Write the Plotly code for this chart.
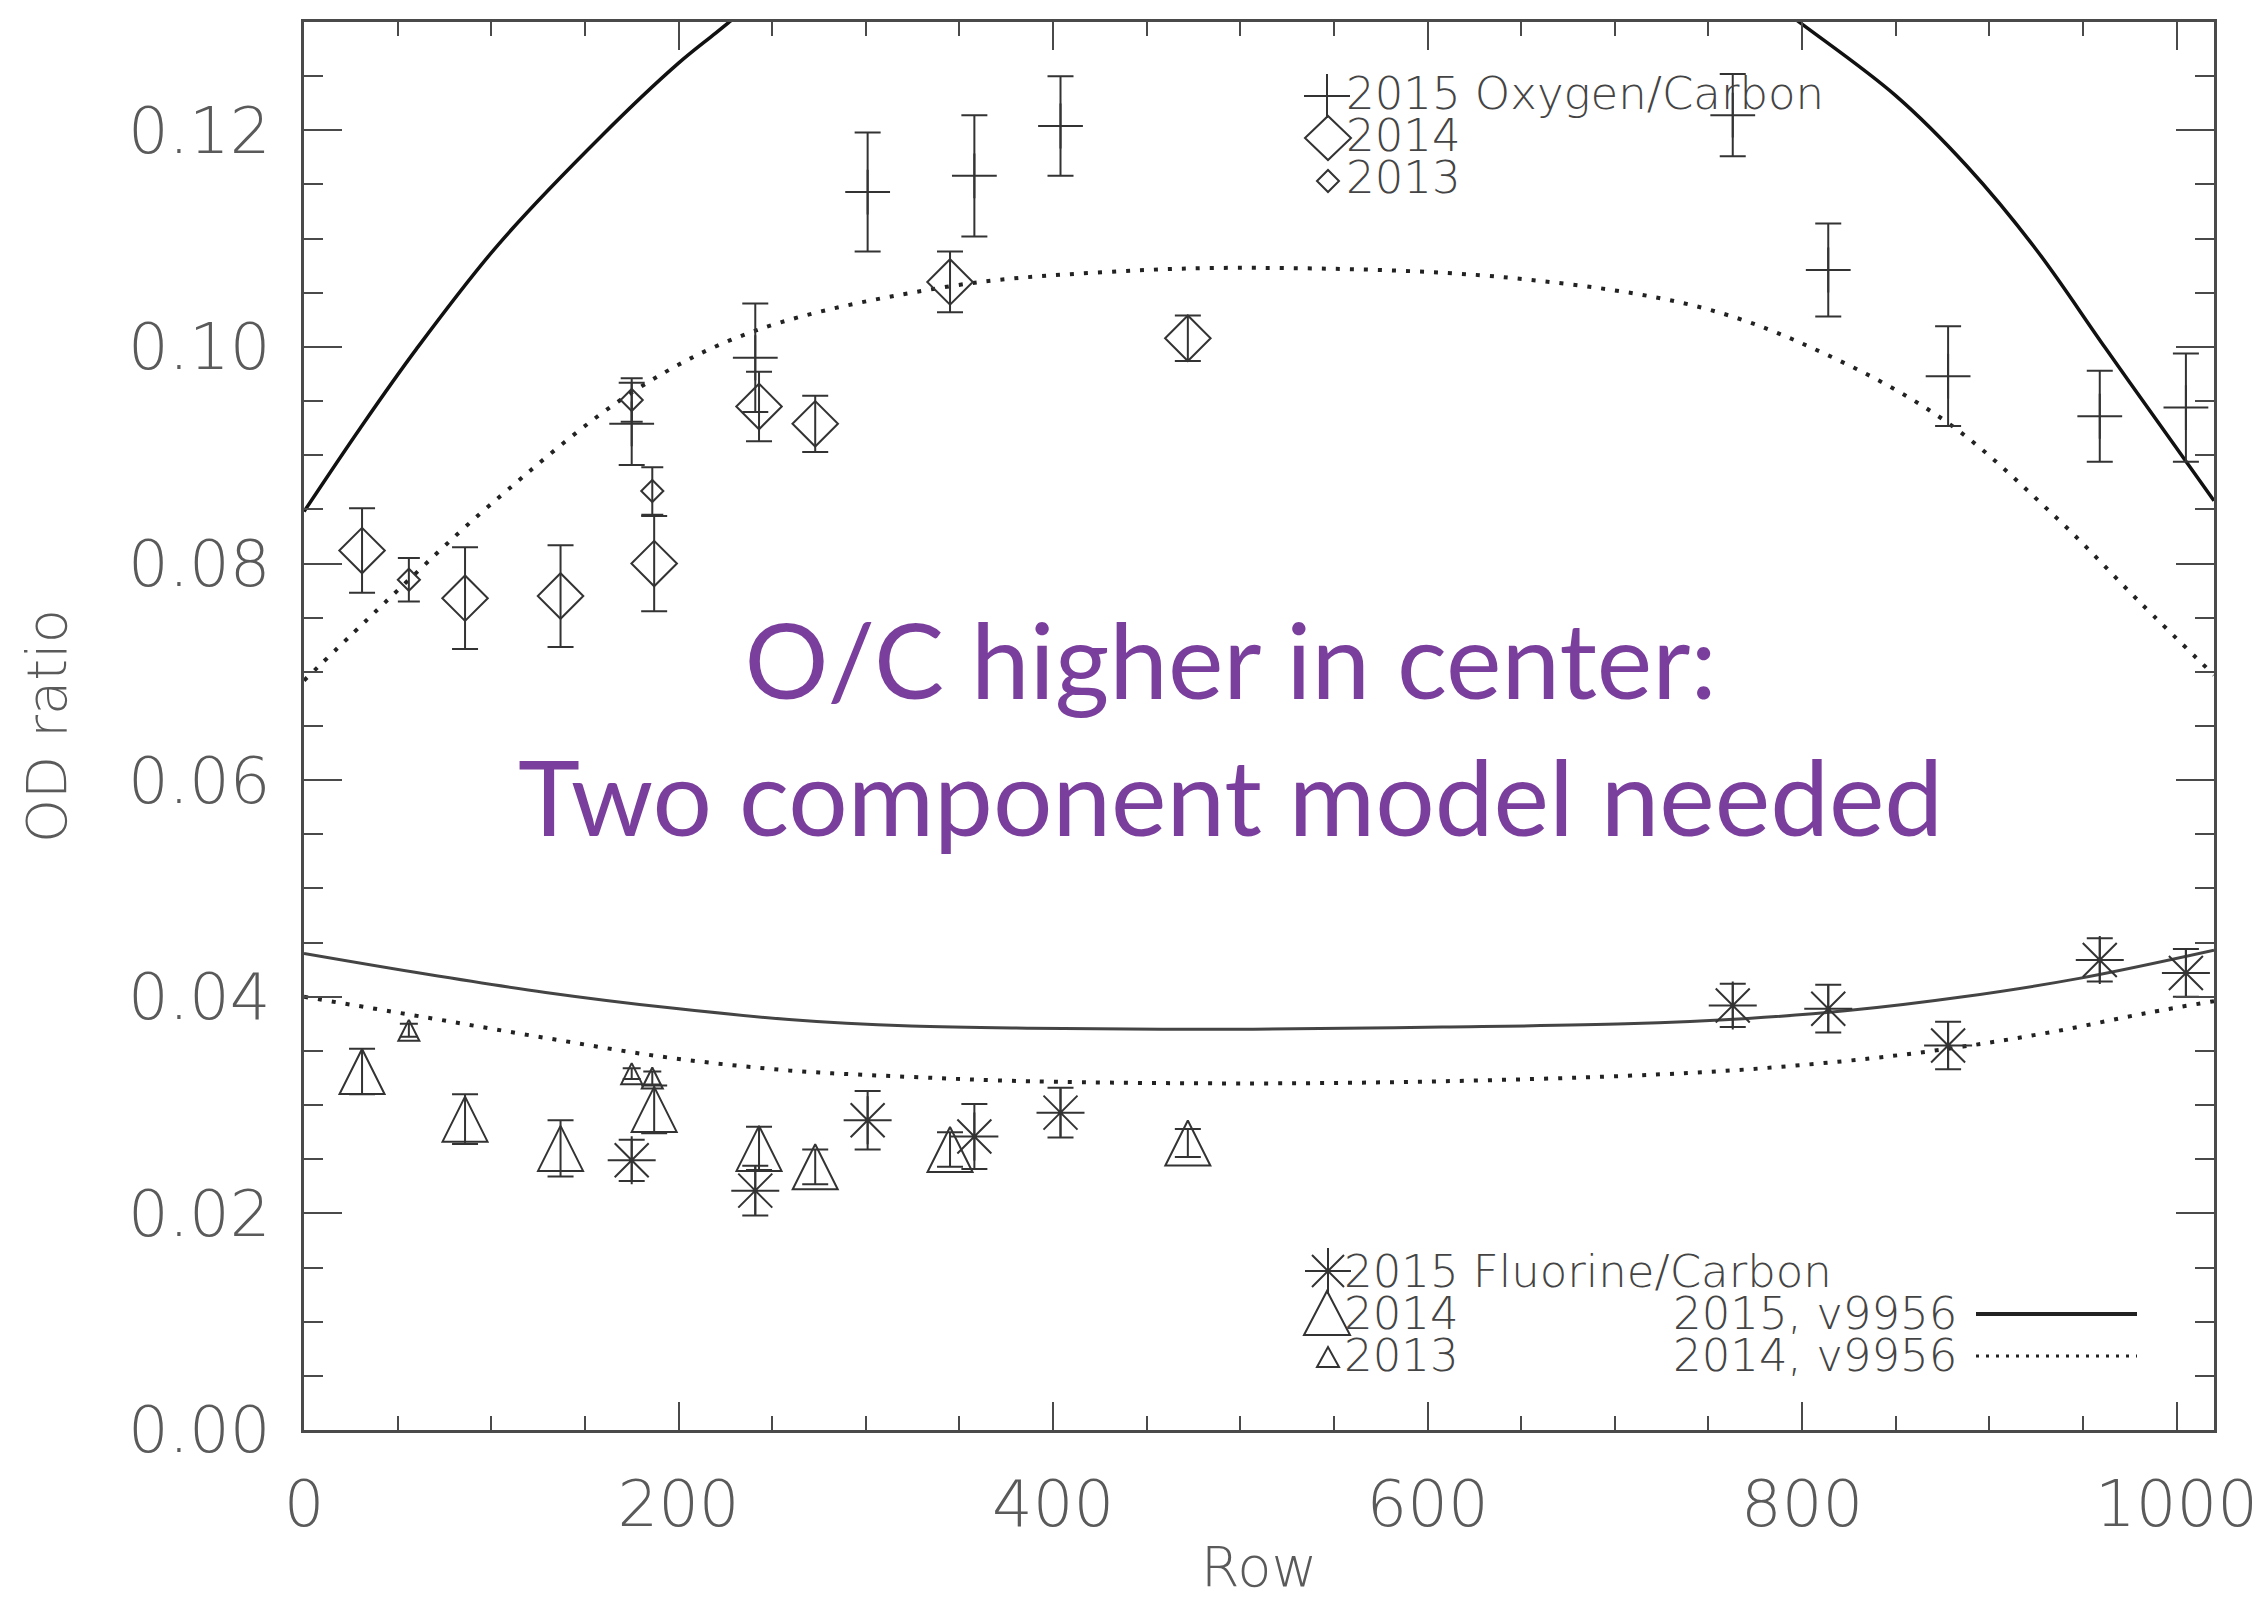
import plotly.graph_objects as go

# ---------------- data ----------------
rows_2015 = [175, 241, 301, 358, 404, 763, 814, 878, 959, 1005]
oc_2015 = [0.0929, 0.0990, 0.1143, 0.1158, 0.1204, 0.1214, 0.1071, 0.0973, 0.0936, 0.0944]
oc_2015_err = [0.0038, 0.0050, 0.0055, 0.0056, 0.0046, 0.0038, 0.0043, 0.0046, 0.0042, 0.0050]
fc_2015 = [0.0249, 0.0221, 0.0286, 0.0271, 0.0293, 0.0392, 0.0389, 0.0355, 0.0434, 0.0422]
fc_2015_err = [0.0019, 0.0023, 0.0027, 0.0030, 0.0023, 0.0020, 0.0022, 0.0022, 0.0020, 0.0022]

rows_2014 = [31, 86, 137, 187, 243, 273, 345, 472]
oc_2014 = [0.0812, 0.0768, 0.0770, 0.0800, 0.0945, 0.0929, 0.1060, 0.1008]
oc_2014_err = [0.0039, 0.0047, 0.0047, 0.0044, 0.0032, 0.0026, 0.0028, 0.0021]
fc_2014 = [0.0331, 0.0287, 0.0260, 0.0296, 0.0260, 0.0243, 0.0259, 0.0265]
fc_2014_err = [0.0021, 0.0023, 0.0026, 0.0022, 0.0020, 0.0016, 0.0016, 0.0013]

rows_2013 = [56, 175, 186]
oc_2013 = [0.0785, 0.0951, 0.0867]
oc_2013_err = [0.0020, 0.0020, 0.0022]
fc_2013 = [0.0369, 0.0329, 0.0325]
fc_2013_err = [0.0006, 0.0005, 0.0006]

# model curves (v9956); values above 0.13 are estimates of the clipped part
model_oc15_rows = [0, 30, 60, 104, 159, 200, 220, 240, 260, 350, 512, 680, 770, 800, 850, 888, 925, 962, 999, 1020]
model_oc15 = [0.0848, 0.0925, 0.0998, 0.1095, 0.1195, 0.1262, 0.1290, 0.1318, 0.1345, 0.1445, 0.1515,
              0.1442, 0.1336, 0.1298, 0.1232, 0.1167, 0.1090, 0.0999, 0.0909, 0.0858]
model_oc14_rows = [0, 33, 56, 100, 176, 241, 345, 427, 510, 643, 747, 813, 877, 936, 980, 1020]
model_oc14 = [0.0692, 0.0747, 0.0785, 0.0855, 0.0959, 0.1015, 0.1056, 0.1069, 0.1073, 0.1064,
              0.1036, 0.0993, 0.0931, 0.0842, 0.0765, 0.0697]
model_fc15_rows = [0, 65, 129, 194, 259, 324, 388, 507, 608, 706, 771, 823, 886, 948, 1020]
model_fc15 = [0.0440, 0.0421, 0.0404, 0.0390, 0.0379, 0.0373, 0.0371, 0.0370, 0.0372, 0.0375,
              0.0380, 0.0387, 0.0400, 0.0417, 0.0443]
model_fc14_rows = [0, 65, 129, 194, 259, 324, 388, 507, 608, 706, 771, 836, 886, 935, 984, 1020]
model_fc14 = [0.0400, 0.0381, 0.0362, 0.0344, 0.0332, 0.0326, 0.0322, 0.0320, 0.0322, 0.0327,
              0.0333, 0.0343, 0.0354, 0.0368, 0.0385, 0.0396]

x_range = [0, 1020]
y_range = [0, 0.13]

legend_oc = ["2015 Oxygen/Carbon", "2014", "2013"]
legend_fc = ["2015 Fluorine/Carbon", "2014", "2013"]
legend_model = ["2015, v9956", "2014, v9956"]
overlay_text = ["O/C higher in center:", "Two component model needed"]

# ---------------- styling ----------------
W, H = 2264, 1608
ML, MR, MT, MB = 296, 58, 14, 186
PW, PH = W - ML - MR, H - MT - MB
INK = "#333333"
AXC = "#4a4a4a"
FAM = "DejaVu Sans, Roboto, sans-serif"
TFONT = dict(family=FAM, size=64, color="#5a5a5a", weight=200)
TTFONT = dict(family=FAM, size=56, color="#5a5a5a", weight=200)
LEG_PX = 45          # legend glyph size (px)
LEG_STEP = 42        # legend row spacing (px)
LFONT = dict(family=FAM, size=LEG_STEP / 1.3, color="#444444", weight=200)
PURPLE = "#7a3f9d"
NBSP = "\u00a0"


def px_x(px):
    return (px - ML) / PW


def px_y(py):
    return (MT + PH - py) / PH


def err(arr, w):
    return dict(type="data", array=arr, visible=True, color=INK, thickness=2, width=w)


def big(s):
    return f'<span style="font-size:{LEG_PX}px">{s}</span>'


fig = go.Figure()

# model curves
fig.add_trace(go.Scatter(x=model_oc15_rows, y=model_oc15, mode="lines", line_shape="spline",
                         line=dict(color="#111111", width=3.5), showlegend=False))
fig.add_trace(go.Scatter(x=model_oc14_rows, y=model_oc14, mode="lines", line_shape="spline",
                         line=dict(color="#222222", width=4, dash="4px,10px"), showlegend=False))
fig.add_trace(go.Scatter(x=model_fc15_rows, y=model_fc15, mode="lines", line_shape="spline",
                         line=dict(color="#444444", width=3), showlegend=False))
fig.add_trace(go.Scatter(x=model_fc14_rows, y=model_fc14, mode="lines", line_shape="spline",
                         line=dict(color="#222222", width=4, dash="4px,10px"), showlegend=False))

# O/C points
fig.add_trace(go.Scatter(x=rows_2015, y=oc_2015, mode="markers", error_y=err(oc_2015_err, 13),
                         marker=dict(symbol="cross-thin-open", size=32, color=INK, line=dict(color=INK, width=2)),
                         showlegend=False))
fig.add_trace(go.Scatter(x=rows_2014, y=oc_2014, mode="markers", error_y=err(oc_2014_err, 13),
                         marker=dict(symbol="diamond-open", size=35, color=INK, line=dict(color=INK, width=2)),
                         showlegend=False))
fig.add_trace(go.Scatter(x=rows_2013, y=oc_2013, mode="markers", error_y=err(oc_2013_err, 11),
                         marker=dict(symbol="diamond-open", size=17, color=INK, line=dict(color=INK, width=2)),
                         showlegend=False))

# F/C points
fig.add_trace(go.Scatter(x=rows_2015, y=fc_2015, mode="markers", error_y=err(fc_2015_err, 13),
                         marker=dict(symbol="asterisk-open", size=40, color=INK, line=dict(color=INK, width=2)),
                         showlegend=False))
fig.add_trace(go.Scatter(x=rows_2014, y=fc_2014, mode="markers", error_y=err(fc_2014_err, 13),
                         marker=dict(symbol="arrow-down-open", size=45, angle=180, standoff=22.5,
                                     color=INK, line=dict(color=INK, width=2)),
                         showlegend=False))
fig.add_trace(go.Scatter(x=rows_2013, y=fc_2013, mode="markers", error_y=err(fc_2013_err, 9),
                         marker=dict(symbol="arrow-down-open", size=21, angle=180, standoff=10.5,
                                     color=INK, line=dict(color=INK, width=2)),
                         showlegend=False))

# ---------------- legend keys (layout decorations) ----------------
SYM = {
    "plus": "M-23,0H23M0,-22V22",
    "diamond": "M-23,0L0,22L23,0L0,-22Z",
    "sdiamond": "M-11,0L0,11L11,0L0,-11Z",
    "star": "M0,-23V23M-23,0H23M-16,-16L16,16M-16,16L16,-16",
    "triangle": "M-23,-22L0,22L23,-22Z",
    "striangle": "M-11,-10L0,10L11,-10Z",
}
shapes = []


def key(name, cx, cy):
    shapes.append(dict(type="path", xref="paper", yref="paper", xsizemode="pixel", ysizemode="pixel",
                       xanchor=px_x(cx), yanchor=px_y(cy), path=SYM[name],
                       line=dict(color=INK, width=2)))


key("plus", 1319, 88)
key("diamond", 1320, 130)
key("sdiamond", 1320, 173)
key("star", 1320, 1263)
key("triangle", 1319, 1305)
key("striangle", 1320, 1349)

shapes.append(dict(type="line", xref="paper", yref="paper", x0=px_x(1968), x1=px_x(2129),
                   y0=px_y(1306), y1=px_y(1306), line=dict(color="#222222", width=4)))
shapes.append(dict(type="line", xref="paper", yref="paper", x0=px_x(1968), x1=px_x(2129),
                   y0=px_y(1348), y1=px_y(1348), line=dict(color="#222222", width=3, dash="3px,7px")))

annotations = []
# top legend block (O/C)
annotations.append(dict(text="<br>".join(big(t) for t in legend_oc), x=px_x(1336), y=px_y(128),
                        xref="paper", yref="paper", xanchor="left", yanchor="middle", align="left",
                        showarrow=False, font=LFONT))
# bottom legend block (F/C + models), model labels padded into a right column
pad = NBSP * 15
bottom_lines = [legend_fc[0], legend_fc[1] + pad + legend_model[0], legend_fc[2] + pad + legend_model[1]]
annotations.append(dict(text="<br>".join(big(t) for t in bottom_lines), x=px_x(1334), y=px_y(1305),
                        xref="paper", yref="paper", xanchor="left", yanchor="middle", align="left",
                        showarrow=False, font=LFONT))
# purple overlay
annotations.append(dict(text="<br>".join(overlay_text), x=px_x(1222), y=px_y(718),
                        xref="paper", yref="paper", xanchor="center", yanchor="middle", align="center",
                        showarrow=False,
                        font=dict(family="Lato, Open Sans, sans-serif", size=105, color=PURPLE)))

axis_common = dict(showgrid=False, zeroline=False, showline=True, linecolor=AXC, linewidth=2.5,
                   mirror="ticks", ticks="inside", tickcolor=AXC, tickwidth=2, tickfont=TFONT)

fig.update_xaxes(range=x_range, tick0=0, dtick=200, ticklen=28, ticklabelstandoff=16,
                 minor=dict(ticks="inside", dtick=50, ticklen=14, tickcolor=AXC, tickwidth=2),
                 title=dict(text="Row", font=TTFONT, standoff=8), **axis_common)
fig.update_yaxes(range=y_range, tick0=0, dtick=0.02, tickformat=".2f", ticklen=38, ticklabelstandoff=18,
                 minor=dict(ticks="inside", dtick=0.005, ticklen=19, tickcolor=AXC, tickwidth=2),
                 title=dict(text="OD ratio", font=TTFONT, standoff=44), **axis_common)

fig.update_layout(width=W, height=H, margin=dict(l=ML, r=MR, t=MT, b=MB, autoexpand=False),
                  paper_bgcolor="white", plot_bgcolor="white", showlegend=False,
                  shapes=shapes, annotations=annotations)

fig.write_html("out.html")
